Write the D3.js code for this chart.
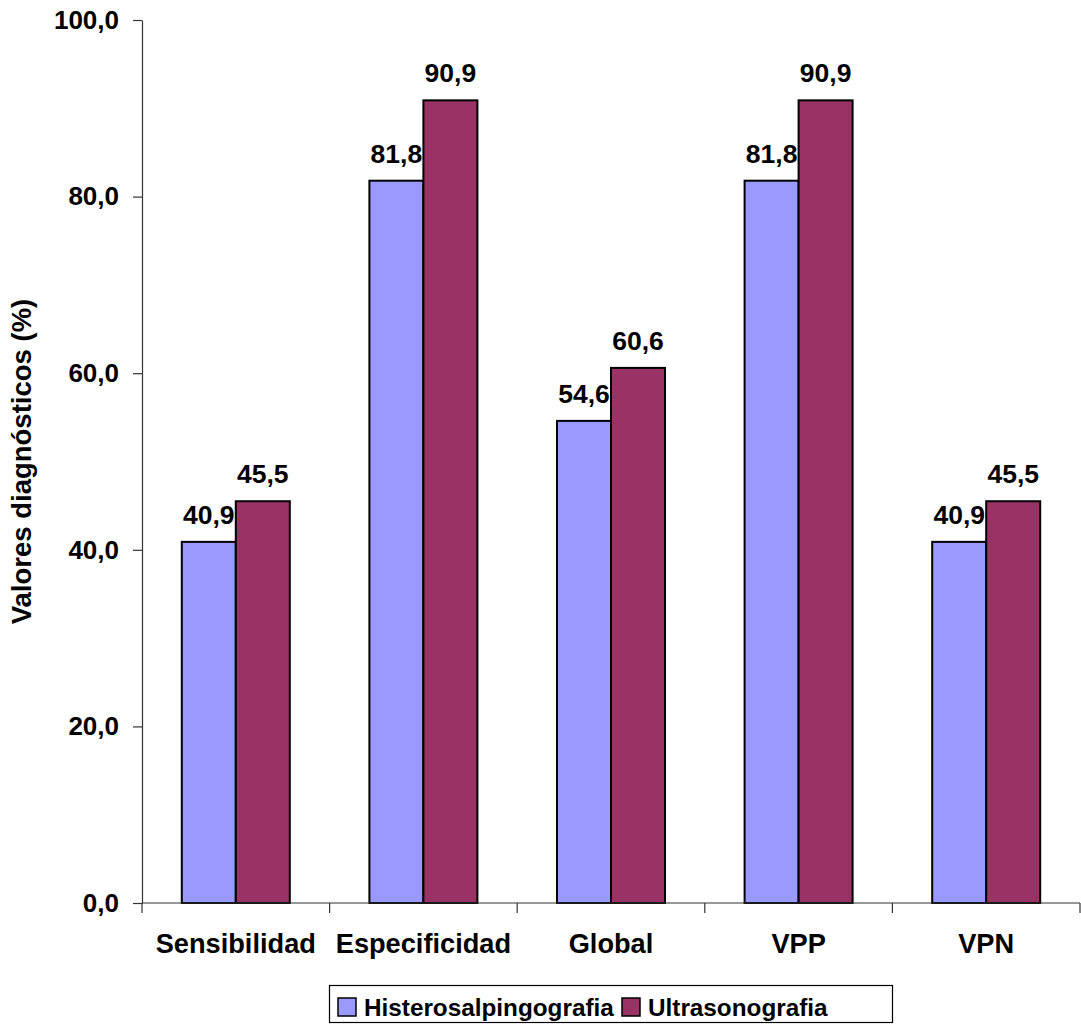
<!DOCTYPE html>
<html><head><meta charset="utf-8">
<script src="https://cdn.jsdelivr.net/npm/d3@7"></script>
<style>
body{margin:0;background:#fff;}
text{font-family:Arial,"Liberation Sans",sans-serif;font-weight:bold;fill:#000;}
</style></head>
<body><svg id="c" width="1081" height="1026"></svg>
<script>
const categories = ["Sensibilidad","Especificidad","Global","VPP","VPN"];
const seriesNames = ["Histerosalpingografia","Ultrasonografia"];
const histero = [40.9, 81.8, 54.6, 81.8, 40.9];
const ultra = [45.5, 90.9, 60.6, 90.9, 45.5];
const yTicks = [0,20,40,60,80,100];
const colors = ["#9999FF","#993366"];
const fmt = v => v.toFixed(1).replace(".", ",");

(function(){
const svg = d3.select("#c");
const mLeft = 142, mRight = 1080, mTop = 20, mBottom = 903;
const y = d3.scaleLinear().domain([0,100]).range([mBottom, mTop]);
const x0 = d3.scaleBand().domain(categories).range([mLeft, mRight]).padding(0);
const x1 = d3.scaleBand().domain(seriesNames).range([0, x0.bandwidth()]).paddingInner(0).paddingOuter(0.737);
const color = d3.scaleOrdinal().domain(seriesNames).range(colors);

const data = categories.map((c,i)=>({cat:c, vals:[{s:seriesNames[0],v:histero[i]},{s:seriesNames[1],v:ultra[i]}]}));

// Y axis
const yAxis = d3.axisLeft(y).tickValues(yTicks).tickSize(9).tickSizeOuter(0).tickFormat(fmt).tickPadding(14);
const gy = svg.append("g").attr("transform",`translate(${mLeft},0)`).call(yAxis);
gy.select(".domain").attr("stroke","#333").attr("stroke-width",1.2);
gy.selectAll(".tick line").attr("stroke","#333").attr("stroke-width",1.2);
gy.selectAll(".tick text").style("font-size","26px").style("font-family","Arial, 'Liberation Sans', sans-serif").style("font-weight","bold").attr("fill","#000");

// bars
const groups = svg.append("g").selectAll("g").data(data).join("g")
  .attr("transform", d=>`translate(${x0(d.cat)},0)`);
groups.selectAll("rect").data(d=>d.vals).join("rect")
  .attr("x", d=>x1(d.s)).attr("width", x1.bandwidth())
  .attr("y", d=>y(d.v)).attr("height", d=>y(0)-y(d.v))
  .attr("fill", d=>color(d.s)).attr("stroke","#000").attr("stroke-width",2);
groups.selectAll("text.lbl").data(d=>d.vals).join("text").attr("class","lbl")
  .attr("x", d=>x1(d.s)+x1.bandwidth()/2).attr("y", d=>y(d.v)-18)
  .attr("text-anchor","middle").style("font-size","26.5px").text(d=>fmt(d.v));

// X axis
const gx = svg.append("g").attr("transform",`translate(0,${mBottom})`);
gx.append("line").attr("x1",mLeft).attr("x2",mRight).attr("stroke","#333").attr("stroke-width",1.2);
const bounds = categories.map(c=>x0(c)).concat([x0(categories[categories.length-1])+x0.bandwidth()]);
gx.selectAll("line.tk").data(bounds).join("line").attr("class","tk")
  .attr("x1",d=>d).attr("x2",d=>d).attr("y1",0).attr("y2",10).attr("stroke","#333").attr("stroke-width",1.2);
gx.selectAll("text").data(categories).join("text")
  .attr("x", d=>x0(d)+x0.bandwidth()/2).attr("y", 50)
  .attr("text-anchor","middle").style("font-size","27.2px").text(d=>d);

// Y title
svg.append("text").attr("transform",`translate(31,${(mTop+mBottom)/2}) rotate(-90)`)
  .attr("text-anchor","middle").style("font-size","27.5px").text("Valores diagnósticos (%)");

// Legend
const lg = svg.append("g");
lg.append("rect").attr("x",329.5).attr("y",985.5).attr("width",563).attr("height",37)
  .attr("fill","#fff").attr("stroke","#000").attr("stroke-width",1.2);
const legX = [338, 622];
seriesNames.forEach((s,i)=>{
  lg.append("rect").attr("x",legX[i]).attr("y",998).attr("width",18).attr("height",18)
    .attr("fill",color(s)).attr("stroke","#000").attr("stroke-width",1.5);
  lg.append("text").attr("x",legX[i]+26).attr("y",1016).style("font-size","24.3px").text(s);
});
})();
</script></body></html>
